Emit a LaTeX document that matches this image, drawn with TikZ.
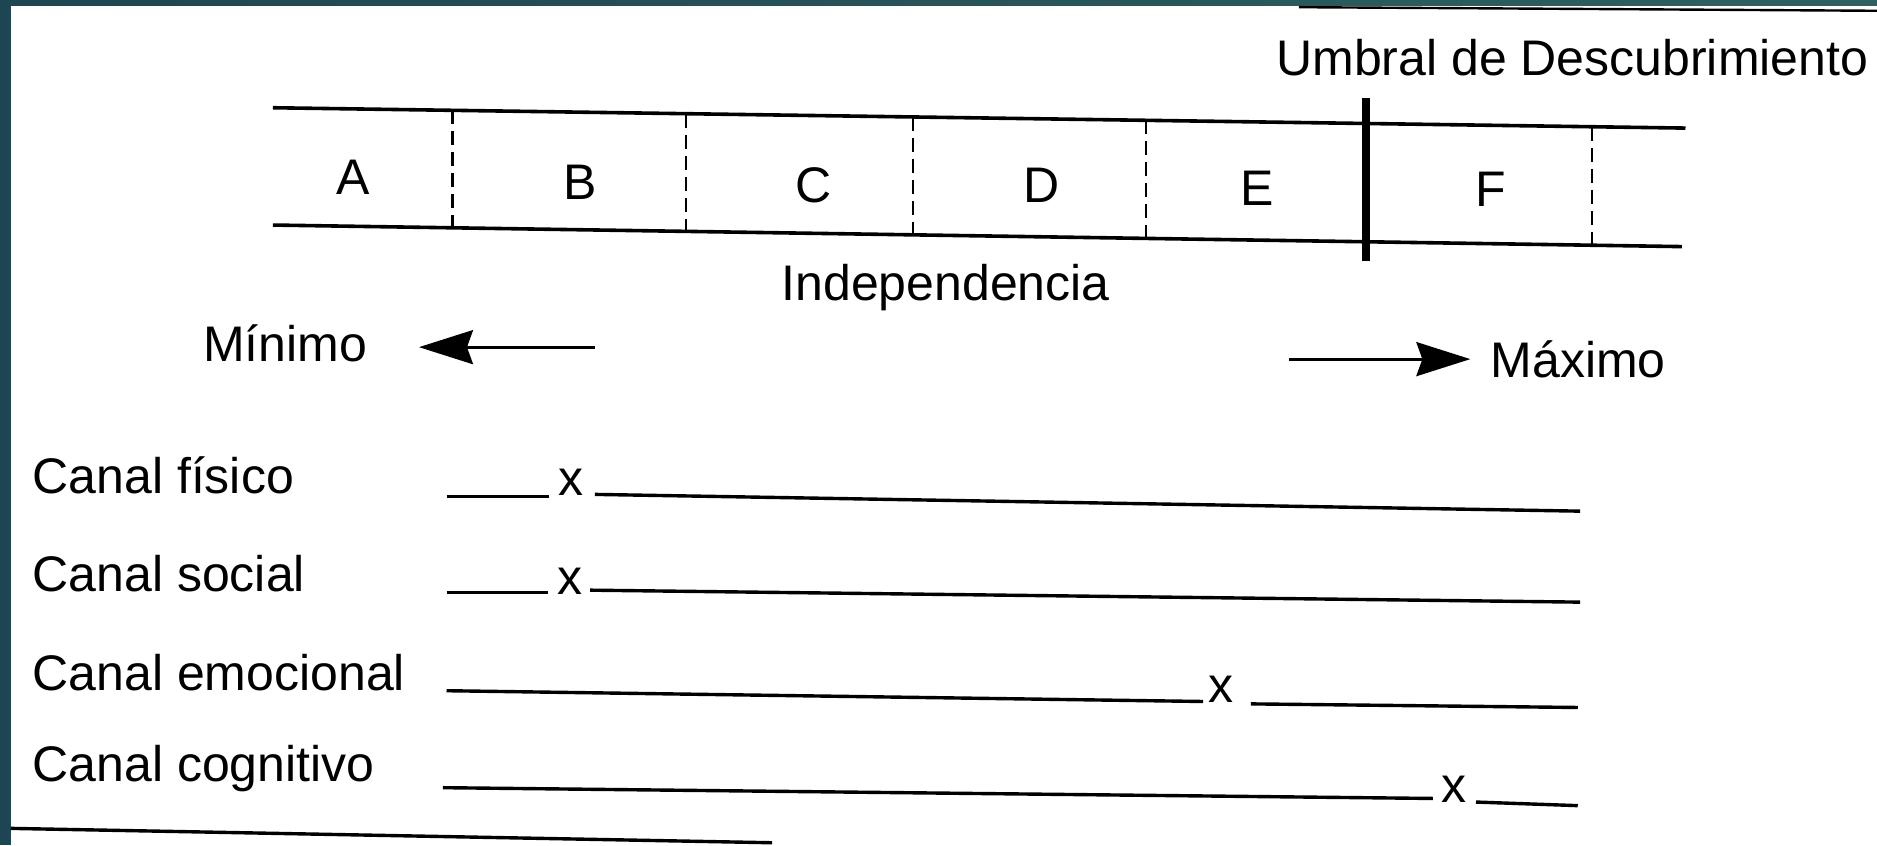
\documentclass[tikz,border=0pt]{standalone}
\usepackage{fontspec}
\setmainfont{Liberation Sans}
\usetikzlibrary{arrows.meta}
\definecolor{tealdark}{RGB}{30,70,82}
\definecolor{teallight}{RGB}{48,96,96}
\tikzset{
  lbl/.style={font=\fontsize{25}{28}\selectfont, inner sep=0pt},
  band/.style={line width=1.8pt},
  sep/.style={line width=1.1pt, dash pattern=on 7pt off 3.5pt},
  chan/.style={line width=1.7pt},
  bigarrow/.style={line width=1.4pt, -{Stealth[length=27pt,width=17pt,inset=3pt]}},
}
\begin{document}
\begin{tikzpicture}[x=0.5985pt,y=-0.5985pt]
\useasboundingbox (0,0) rectangle (1568,706);
\fill[white] (0,0) rectangle (1568,706);
% frame
\shade[left color=tealdark, right color=teallight] (0,0) rectangle (1568,5);
\fill[tealdark] (0,0) rectangle (9,706);
\draw[line width=1.2pt] (1085,6) -- (1568,9);
% band
\coordinate (tl) at (228,90); \coordinate (tr) at (1408,107);
\coordinate (bl) at (228,188); \coordinate (br) at (1405,206);
\draw[band] (tl) -- (tr);
\draw[band] (bl) -- (br);
\foreach \x/\t/\b in {378/92.2/190.3, 573/95.0/193.3, 763/97.7/196.2, 957/100.5/199.1, 1330/105.9/204.9}
  \draw[sep] (\x,\t) -- (\x,\b);
\coordinate (ut) at (1141,82); \coordinate (ub) at (1141,218);
\draw[line width=4.2pt] (ut) -- (ub);
\node[lbl] (A) at (295,148) {A};
\node[lbl] (B) at (485,152) {B};
\node[lbl] (C) at (680,155) {C};
\node[lbl] (D) at (870,155) {D};
\node[lbl] (E) at (1050,157) {E};
\node[lbl] (F) at (1245,158) {F};
\node[lbl, anchor=east] (umbral) at (1561,48) {Umbral de Descubrimiento};
\node[lbl] (indep) at (790,240) {Independencia};
% min / max
\node[lbl, anchor=east] (min) at (307,287) {Mínimo};
\coordinate (minS) at (497,290); \coordinate (minE) at (350,290);
\draw[bigarrow] (minS) -- (minE);
\node[lbl, anchor=west] (max) at (1245,300) {Máximo};
\coordinate (maxS) at (1077,300);
\draw[bigarrow, shorten >=10pt] (maxS) -- (max.west);
% channels
\node[lbl, anchor=west] (c1) at (27,397) {Canal físico};
\node[lbl, anchor=west] (c2) at (27,479) {Canal social};
\node[lbl, anchor=west] (c3) at (27,562) {Canal emocional};
\node[lbl, anchor=west] (c4) at (27,642) {Canal cognitivo};
\node[lbl] (x1) at (477,403) {x};
\node[lbl] (x2) at (476,486) {x};
\node[lbl] (x3) at (1020,576) {x};
\node[lbl] (x4) at (1215,659) {x};
\draw[chan] (373,415) -- (459,415);
\draw[chan] (497,413) -- (1320,427);
\draw[chan] (373,495) -- (458,495);
\draw[chan] (493,493) -- (1320,503);
\draw[chan] (373,577) -- (1005,586);
\draw[chan] (1045,588) -- (1318,591);
\draw[chan] (370,658) -- (1197,667);
\draw[chan] (1233,670) -- (1318,673);
% bottom rule
\draw[chan] (9,692) -- (645,704);
\end{tikzpicture}
\end{document}
